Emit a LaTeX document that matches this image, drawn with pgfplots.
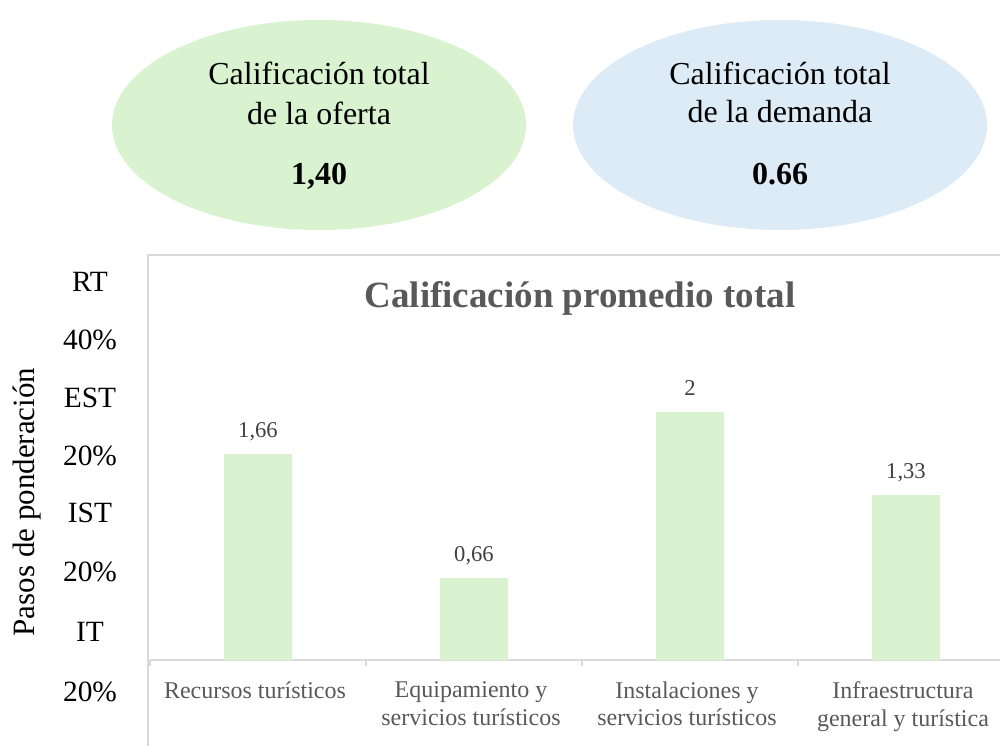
\documentclass[border=0pt]{standalone}
\usepackage{fontspec}
\setmainfont{Liberation Serif}
\usepackage{pgfplots}
\pgfplotsset{compat=1.18}
\definecolor{verde}{HTML}{D9F2D0}
\definecolor{azul}{HTML}{DDEBF7}
\definecolor{marco}{HTML}{D9D9D9}
\definecolor{gristexto}{HTML}{595959}
\definecolor{grisdato}{HTML}{404040}

\begin{document}
\begin{tikzpicture}
\useasboundingbox (0,0) rectangle (500pt,372.5pt);
\clip (0,0) rectangle (500pt,372.5pt);

% totales arriba
\fill[verde] (159.5pt,310pt) ellipse [x radius=103.5pt, y radius=52.5pt];
\fill[azul] (390pt,310pt) ellipse [x radius=103.5pt, y radius=52.5pt];
\begin{scope}[every node/.style={anchor=base, font=\fontsize{16}{19}\selectfont}]
\node at (159.5pt,330pt) {Calificación total};
\node at (159.5pt,310pt) {de la oferta};
\node[font=\bfseries\fontsize{16}{19}\selectfont] at (159.5pt,280pt) {1,40};
\node at (390pt,330pt) {Calificación total};
\node at (390pt,311pt) {de la demanda};
\node[font=\bfseries\fontsize{16}{19}\selectfont] at (390pt,280pt) {0.66};
\end{scope}

% marco del grafico
\draw[marco, line width=0.75pt] (74pt,-5pt) -- (74pt,245pt) -- (510pt,245pt);

% etiquetas de la izquierda
\foreach \yy/\lab in {226.5/RT, 197.5/40\%, 169/EST, 140/20\%, 111.5/IST, 82/20\%, 52/IT, 22/20\%}
  \node[anchor=base, font=\fontsize{14.7}{17}\selectfont] at (45pt,\yy pt) {\lab};
\node[anchor=base, rotate=90, font=\fontsize{15.5}{18}\selectfont] at (17.5pt,121.5pt) {Pasos de ponderación};

\node[anchor=base, text=gristexto, font=\bfseries\fontsize{18.5}{22}\selectfont] at (290pt,218.5pt) {Calificación promedio total};

\begin{axis}[
  at={(75pt,42.5pt)}, anchor=south west,
  scale only axis, width=432pt, height=186pt,
  xmin=-0.5, xmax=3.5, ymin=0, ymax=3,
  clip=false,
  axis y line=none, axis x line*=bottom,
  x axis line style={marco, line width=0.75pt, -},
  ybar, bar width=34pt,
  xtick={0,1,2,3},
  xticklabels={Recursos turísticos, {Equipamiento y\\servicios turísticos}, {Instalaciones y\\servicios turísticos}, {Infraestructura\\general y turística}},
  xticklabel style={align=center, text=gristexto, font=\fontsize{12}{13.6}\selectfont, yshift=-7.5pt, xshift=-1.5pt},
  major tick length=0pt,
  extra x ticks={-0.5,0.5,1.5,2.5,3.5},
  extra x tick labels={},
  extra x tick style={major tick length=3pt, tick align=outside, tick style={marco, line width=0.75pt}},
  nodes near coords,
  point meta=explicit symbolic,
  every node near coord/.append style={anchor=base, yshift=8.5pt, text=grisdato, font=\fontsize{11.3}{13}\selectfont},
]
\addplot[fill=verde, draw=none] coordinates {(0,1.66) [1,66] (1,0.66) [0,66] (2,2) [2] (3,1.33) [1,33]};
\end{axis}
\end{tikzpicture}
\end{document}
